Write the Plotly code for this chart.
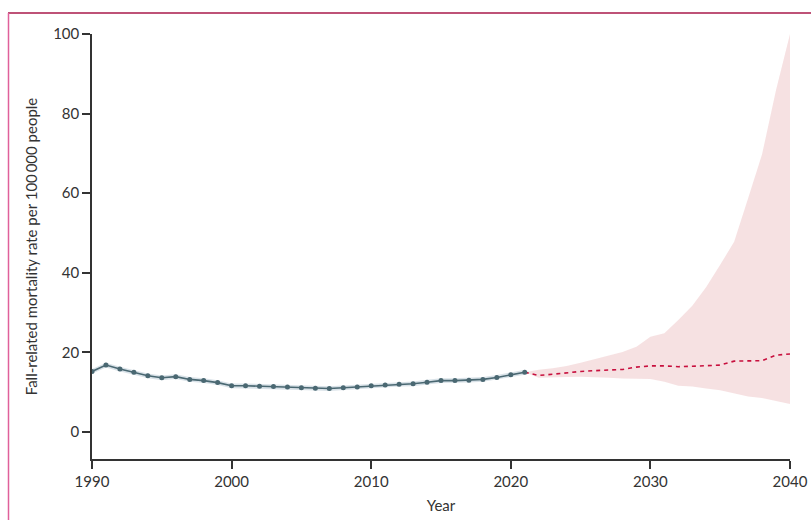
import plotly.graph_objects as go

hist_years = list(range(1990, 2022))
hist_vals = [15.2, 16.8, 15.8, 15.0, 14.1, 13.6, 13.9, 13.2, 12.9, 12.4,
             11.6, 11.6, 11.5, 11.4, 11.3, 11.1, 11.0, 10.9, 11.1, 11.3,
             11.6, 11.8, 12.0, 12.1, 12.5, 12.9, 12.9, 13.0, 13.2, 13.7,
             14.4, 15.0]
hist_upper = [v + 0.6 for v in hist_vals]
hist_lower = [v - 0.6 for v in hist_vals]

fc_years = list(range(2021, 2041))
fc_vals = [15.0, 14.2, 14.5, 14.9, 15.2, 15.4, 15.6, 15.7, 16.3, 16.6,
           16.6, 16.4, 16.5, 16.7, 16.8, 17.8, 17.8, 17.9, 19.3, 19.6]
fc_upper = [15.0, 15.6, 16.0, 16.6, 17.4, 18.3, 19.1, 20.1, 21.4, 23.9,
            24.8, 28.1, 31.7, 36.4, 42.0, 47.8, 58.7, 69.8, 85.9, 100.0]
fc_lower = [15.0, 13.6, 13.7, 13.8, 13.9, 13.8, 13.6, 13.4, 13.3, 13.3,
            12.6, 11.6, 11.4, 10.9, 10.5, 9.7, 8.9, 8.5, 7.8, 7.0]

x_ticks = [1990, 2000, 2010, 2020, 2030, 2040]
y_ticks = [0, 20, 40, 60, 80, 100]

hist_col = "#4a6872"
hist_band = "rgba(196,210,220,0.65)"
fc_col = "#c8103e"
fc_band = "rgba(240,205,207,0.6)"

fig = go.Figure()
fig.add_trace(go.Scatter(x=fc_years + fc_years[::-1], y=fc_upper + fc_lower[::-1],
                         fill="toself", fillcolor=fc_band, line=dict(width=0),
                         hoverinfo="skip", showlegend=False))
fig.add_trace(go.Scatter(x=hist_years + hist_years[::-1], y=hist_upper + hist_lower[::-1],
                         fill="toself", fillcolor=hist_band, line=dict(width=0),
                         hoverinfo="skip", showlegend=False))
fig.add_trace(go.Scatter(x=fc_years, y=fc_vals, mode="lines",
                         line=dict(color=fc_col, width=1.6, dash="4px,4px"),
                         showlegend=False))
fig.add_trace(go.Scatter(x=hist_years, y=hist_vals, mode="lines+markers",
                         line=dict(color=hist_col, width=1.6),
                         marker=dict(color=hist_col, size=5),
                         showlegend=False))

W, H = 811, 520
L, R, T, B = 92, 21, 34, 61
pw, ph = W - L - R, H - T - B
fx = lambda px: (px - L) / pw
fy = lambda py: (H - B - py) / ph

fig.add_shape(type="line", xref="paper", yref="paper",
              x0=fx(8), x1=fx(812), y0=fy(13), y1=fy(13),
              line=dict(color="#a8184a", width=1.5))
fig.add_shape(type="line", xref="paper", yref="paper",
              x0=fx(8.5), x1=fx(8.5), y0=fy(13), y1=fy(522),
              line=dict(color="#e0609a", width=1.5))

font_family = "Lato, 'Open Sans', sans-serif"
fig.update_layout(
    width=W, height=H, autosize=False,
    margin=dict(l=L, r=R, t=T, b=B, autoexpand=False),
    paper_bgcolor="white", plot_bgcolor="white",
    font=dict(family=font_family, color="#333333", size=14),
    xaxis=dict(range=[1990, 2040], tickvals=x_ticks, showgrid=False, zeroline=False,
               showline=True, linecolor="#333333", linewidth=1.5,
               ticks="outside", ticklen=8, tickwidth=1.5, tickcolor="#333333",
               tickfont=dict(size=15), ticklabeloverflow="allow", automargin=False,
               title=dict(text="Year", font=dict(size=15), standoff=12)),
    yaxis=dict(range=[-6.8, 100], tickvals=y_ticks, showgrid=False, zeroline=False,
               showline=True, linecolor="#333333", linewidth=1.5,
               ticks="outside", ticklen=8, tickwidth=1.5, tickcolor="#333333",
               tickfont=dict(size=15), automargin=False,
               title=dict(text="Fall-related mortality rate per 100\u2009000 people",
                          font=dict(size=15), standoff=12)),
)

fig.write_html(
    "out.html",
    config={"displayModeBar": False},
    post_script="document.body.style.margin='0';document.body.style.overflow='hidden';",
)
